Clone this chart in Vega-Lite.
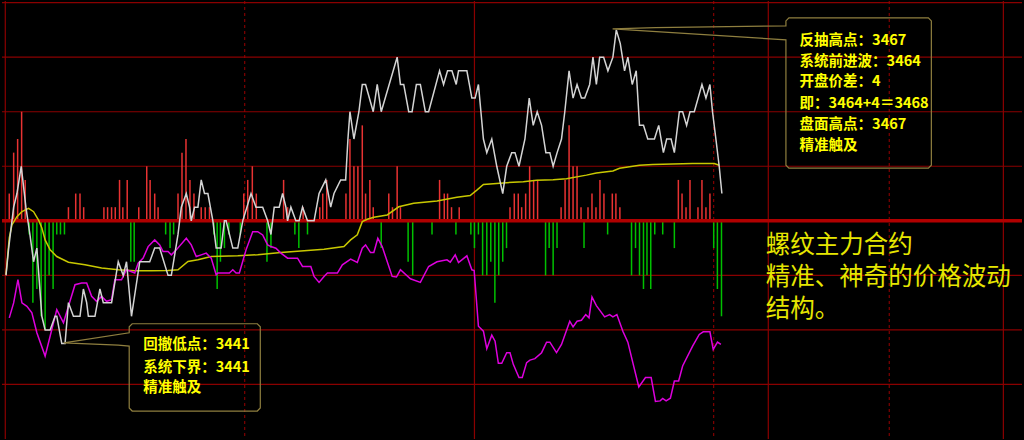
{
  "$schema": "https://vega.github.io/schema/vega-lite/v6.json",
  "width": 1024,
  "height": 440,
  "autosize": {"type": "fit", "contains": "padding"},
  "padding": 0,
  "background": "#000000",
  "view": {"stroke": null},
  "config": {"axis": {"disable": true}},
  "datasets": {
    "hgrid": [{"p": 3469}, {"p": 3465}, {"p": 3461}, {"p": 3457}, {"p": 3449}, {"p": 3445}, {"p": 3441}],
    "base": [{"p": 3453}],
    "vsolid": [{"t": 3.3}, {"t": 474.3}, {"t": 769.3}, {"t": 1005.3}],
    "vdash": [{"t": 243.7}, {"t": 714.5}, {"t": 890.7}],
    "bars": [
      {"t":7.3,"v":2},{"t":11.7,"v":5},{"t":15.7,"v":6},{"t":19.7,"v":8},{"t":23.3,"v":3},{"t":66.7,"v":1},{"t":74,"v":2},{"t":78.3,"v":2},{"t":82,"v":1},{"t":102.3,"v":1},{"t":106,"v":1},{"t":110,"v":1},{"t":113.7,"v":1},{"t":118,"v":3},{"t":121.3,"v":1},{"t":125.7,"v":3},{"t":137.3,"v":1},{"t":145.3,"v":4},{"t":148.7,"v":3},{"t":153.3,"v":2},{"t":156.7,"v":1},{"t":176.7,"v":2},{"t":180.7,"v":5},{"t":184.7,"v":6},{"t":188.7,"v":3},{"t":192.7,"v":2},{"t":200,"v":1},{"t":204,"v":1},{"t":208.3,"v":1},{"t":242.7,"v":2},{"t":246.7,"v":3},{"t":251.3,"v":4},{"t":255.3,"v":2},{"t":282.7,"v":3},{"t":286.7,"v":1},{"t":302.3,"v":1},{"t":319,"v":1},{"t":322,"v":2},{"t":326,"v":3},{"t":345.3,"v":2},{"t":349.3,"v":6},{"t":353.3,"v":4},{"t":357.3,"v":4},{"t":361.7,"v":7},{"t":365,"v":2},{"t":369.3,"v":3},{"t":372.7,"v":1},{"t":388.3,"v":2},{"t":392,"v":1},{"t":396.7,"v":4},{"t":400,"v":1},{"t":439.3,"v":3},{"t":444,"v":2},{"t":447.3,"v":2},{"t":451.3,"v":1},{"t":459,"v":1},{"t":510,"v":1},{"t":514.3,"v":2},{"t":518.3,"v":2},{"t":521.7,"v":1},{"t":525.7,"v":2},{"t":529.7,"v":4},{"t":533.7,"v":3},{"t":537.7,"v":3},{"t":561.3,"v":1},{"t":565.3,"v":3},{"t":569.3,"v":7},{"t":573.3,"v":4},{"t":577.3,"v":4},{"t":581.3,"v":1},{"t":588.3,"v":1},{"t":592.3,"v":2},{"t":596.3,"v":1},{"t":600.3,"v":3},{"t":604.3,"v":2},{"t":612.7,"v":2},{"t":616.3,"v":2},{"t":620.3,"v":1},{"t":679,"v":3},{"t":682.7,"v":2},{"t":686.7,"v":1},{"t":690.7,"v":3},{"t":698.7,"v":1},{"t":702.7,"v":3},{"t":706.7,"v":1},{"t":710.7,"v":2},
      {"t":27.3,"v":-1},{"t":31,"v":-6},{"t":35,"v":-5},{"t":39.3,"v":-7},{"t":43.3,"v":-8},{"t":47.3,"v":-4},{"t":51.3,"v":-5},{"t":55,"v":-1},{"t":58.7,"v":-1},{"t":62.7,"v":-1},{"t":129.3,"v":-3},{"t":132.7,"v":-3},{"t":164.3,"v":-1},{"t":168.7,"v":-2},{"t":172.3,"v":-1},{"t":212.7,"v":-1},{"t":216,"v":-5},{"t":219.3,"v":-3},{"t":223.3,"v":-2},{"t":227.7,"v":-1},{"t":239.3,"v":-1},{"t":266,"v":-3},{"t":270,"v":-2},{"t":294,"v":-1},{"t":298,"v":-2},{"t":306.7,"v":-1},{"t":380.7,"v":-2},{"t":407.7,"v":-3},{"t":412.3,"v":-4},{"t":431.7,"v":-1},{"t":455.7,"v":-1},{"t":470.7,"v":-1},{"t":474.3,"v":-2},{"t":478.3,"v":-1},{"t":482.5,"v":-4},{"t":486.7,"v":-4},{"t":490.7,"v":-3},{"t":494.8,"v":-6},{"t":498.7,"v":-4},{"t":502.7,"v":-3},{"t":506.5,"v":-2},{"t":545.7,"v":-4},{"t":549.3,"v":-2},{"t":553.3,"v":-4},{"t":557.2,"v":-2},{"t":584.3,"v":-2},{"t":608,"v":-1},{"t":632,"v":-4},{"t":636,"v":-2},{"t":640,"v":-4},{"t":644,"v":-5},{"t":647.5,"v":-4},{"t":651.3,"v":-5},{"t":655.3,"v":-1},{"t":663.3,"v":-1},{"t":675,"v":-2},{"t":714.5,"v":-2},{"t":718.2,"v":-5},{"t":722.3,"v":-7}
    ],
    "avg": [
      {"t":4,"p":3449.05},{"t":7.3,"p":3451.75},{"t":10,"p":3452.7},{"t":15,"p":3453.3},{"t":20,"p":3453.67},{"t":26.7,"p":3453.92},{"t":31.7,"p":3453.67},{"t":36.7,"p":3453.06},{"t":40,"p":3452.48},{"t":43.3,"p":3451.6},{"t":48.3,"p":3450.87},{"t":55,"p":3450.38},{"t":66.7,"p":3449.96},{"t":83.3,"p":3449.78},{"t":100,"p":3449.54},{"t":116.7,"p":3449.41},{"t":133.3,"p":3449.34},{"t":150,"p":3449.34},{"t":166.7,"p":3449.36},{"t":176.7,"p":3449.41},{"t":186.7,"p":3450.02},{"t":196.7,"p":3450.14},{"t":210,"p":3450.38},{"t":236.7,"p":3450.43},{"t":256.7,"p":3450.51},{"t":280,"p":3450.67},{"t":303.3,"p":3450.8},{"t":323.3,"p":3450.92},{"t":343.3,"p":3451.11},{"t":350,"p":3451.6},{"t":356.7,"p":3451.97},{"t":361.7,"p":3452.94},{"t":366.7,"p":3453.11},{"t":373.3,"p":3453.26},{"t":386.7,"p":3453.43},{"t":398.3,"p":3454.03},{"t":413.3,"p":3454.28},{"t":436.7,"p":3454.45},{"t":456.7,"p":3454.72},{"t":470,"p":3454.85},{"t":476.7,"p":3455.25},{"t":483.3,"p":3455.67},{"t":503.3,"p":3455.78},{"t":523.3,"p":3455.87},{"t":536.7,"p":3455.98},{"t":553.3,"p":3456.01},{"t":566.7,"p":3456.09},{"t":586.7,"p":3456.35},{"t":596.7,"p":3456.51},{"t":613.3,"p":3456.66},{"t":620,"p":3456.86},{"t":640,"p":3457.08},{"t":653.3,"p":3457.13},{"t":693.3,"p":3457.2},{"t":715,"p":3457.2},{"t":720,"p":3457.08}
    ],
    "oi": [
      {"t":7.3,"m":121.7},{"t":11.7,"m":136.7},{"t":16,"m":160},{"t":20,"m":136.7},{"t":25,"m":133.3},{"t":30,"m":126.7},{"t":35,"m":106.7},{"t":43.3,"m":83.3},{"t":50,"m":110},{"t":55,"m":130},{"t":61.7,"m":116.7},{"t":66.7,"m":133.3},{"t":73.3,"m":155},{"t":80,"m":156.7},{"t":85,"m":156.7},{"t":90,"m":143.3},{"t":95,"m":138.3},{"t":100,"m":143.3},{"t":105,"m":138.3},{"t":110,"m":140},{"t":113.3,"m":160},{"t":120,"m":160},{"t":125,"m":170},{"t":133.3,"m":166.7},{"t":136.7,"m":176.7},{"t":141.7,"m":181.7},{"t":146.7,"m":193.3},{"t":153.3,"m":200},{"t":158.3,"m":195},{"t":161.7,"m":188.3},{"t":166.7,"m":188.3},{"t":170,"m":185},{"t":175,"m":190},{"t":185,"m":201.7},{"t":190,"m":195},{"t":195,"m":183.3},{"t":200,"m":185},{"t":205,"m":186.7},{"t":210,"m":181.7},{"t":215,"m":165},{"t":216.7,"m":166.7},{"t":228.3,"m":166.7},{"t":231.7,"m":170},{"t":235,"m":166.7},{"t":238.3,"m":166.7},{"t":245,"m":190},{"t":251.7,"m":208.3},{"t":256.7,"m":208.3},{"t":261.7,"m":205},{"t":266.7,"m":195},{"t":270,"m":193.3},{"t":275,"m":191.7},{"t":280,"m":186.7},{"t":286.7,"m":181.7},{"t":296.7,"m":181.7},{"t":301.7,"m":173.3},{"t":310,"m":173.3},{"t":313.3,"m":163.3},{"t":318.3,"m":157.3},{"t":323.3,"m":163.3},{"t":326.7,"m":166.7},{"t":336.7,"m":166.7},{"t":341.7,"m":175},{"t":350,"m":180.7},{"t":356.7,"m":177.3},{"t":361.7,"m":191.7},{"t":365,"m":195},{"t":370,"m":187.3},{"t":373.3,"m":187.3},{"t":377.3,"m":201.7},{"t":381.7,"m":193.3},{"t":391.7,"m":163.3},{"t":396,"m":162.7},{"t":400,"m":170},{"t":410,"m":161},{"t":420,"m":157.3},{"t":428.3,"m":173.3},{"t":436.7,"m":178},{"t":446.7,"m":180},{"t":450,"m":177.7},{"t":455,"m":185},{"t":458.3,"m":177.3},{"t":466.7,"m":184},{"t":471.7,"m":170},{"t":474,"m":169.3},{"t":478.3,"m":113.3},{"t":483.3,"m":108.3},{"t":486.7,"m":90.7},{"t":491.7,"m":104.3},{"t":495,"m":98.3},{"t":498.3,"m":76},{"t":501.7,"m":76},{"t":506.7,"m":86.7},{"t":510,"m":86.7},{"t":513.3,"m":75},{"t":519,"m":61.7},{"t":522.3,"m":61.7},{"t":526.7,"m":76.7},{"t":530,"m":79.3},{"t":535,"m":80.7},{"t":541.7,"m":86.7},{"t":546.7,"m":97.3},{"t":550,"m":97.3},{"t":556.7,"m":86.7},{"t":561.7,"m":95},{"t":570,"m":118.3},{"t":573.3,"m":112.7},{"t":577.3,"m":118.3},{"t":581.7,"m":119.3},{"t":586,"m":125},{"t":589.3,"m":121.7},{"t":592.3,"m":142.7},{"t":596.7,"m":134},{"t":605,"m":122.7},{"t":610,"m":125},{"t":613.3,"m":122.7},{"t":617.3,"m":125},{"t":623.3,"m":108.3},{"t":628.3,"m":97.3},{"t":633.3,"m":76.7},{"t":639.3,"m":52.3},{"t":646,"m":61.7},{"t":651.7,"m":61.7},{"t":656,"m":37.7},{"t":660.7,"m":38.3},{"t":663.3,"m":40.7},{"t":666.7,"m":38.3},{"t":671,"m":41},{"t":675,"m":58.3},{"t":679.3,"m":58.3},{"t":683.3,"m":73.3},{"t":693.3,"m":93.3},{"t":700,"m":105},{"t":704,"m":107.7},{"t":710.7,"m":107.7},{"t":714,"m":90},{"t":718.3,"m":97.3},{"t":721.7,"m":95}
    ],
    "price": [
      {"t":4,"p":3449},{"t":6.7,"p":3451},{"t":10,"p":3453},{"t":11.7,"p":3454},{"t":15,"p":3455},{"t":19.3,"p":3457},{"t":24,"p":3454},{"t":28,"p":3452},{"t":31.7,"p":3450},{"t":35,"p":3451},{"t":40,"p":3446},{"t":43.3,"p":3445},{"t":48.3,"p":3445},{"t":53.3,"p":3446},{"t":55,"p":3446},{"t":60,"p":3444},{"t":63.3,"p":3444},{"t":66.7,"p":3447},{"t":71.7,"p":3446},{"t":78.3,"p":3446},{"t":81.7,"p":3448},{"t":85,"p":3447},{"t":86.7,"p":3446},{"t":93.3,"p":3446},{"t":98.3,"p":3448},{"t":101.7,"p":3447},{"t":110,"p":3447},{"t":116.7,"p":3450},{"t":121.7,"p":3449},{"t":125,"p":3450},{"t":130,"p":3446},{"t":138.3,"p":3450},{"t":148.3,"p":3450},{"t":153.3,"p":3451},{"t":158.3,"p":3451},{"t":166.7,"p":3449},{"t":170,"p":3449},{"t":176.7,"p":3452},{"t":180,"p":3454},{"t":185,"p":3455},{"t":188.3,"p":3454},{"t":190,"p":3453},{"t":193.3,"p":3454},{"t":196.7,"p":3454},{"t":200,"p":3456},{"t":203.3,"p":3455},{"t":206.7,"p":3455},{"t":211.7,"p":3453},{"t":215,"p":3451},{"t":220,"p":3451},{"t":223.3,"p":3453},{"t":225,"p":3453},{"t":231.7,"p":3451},{"t":236.7,"p":3451},{"t":241.7,"p":3453},{"t":250,"p":3455},{"t":255,"p":3454},{"t":261.7,"p":3454},{"t":266.7,"p":3453},{"t":270,"p":3452},{"t":273.3,"p":3454},{"t":278.3,"p":3454},{"t":281.7,"p":3455},{"t":285,"p":3454},{"t":286.7,"p":3453},{"t":290,"p":3454},{"t":295,"p":3453},{"t":298.3,"p":3453},{"t":301.7,"p":3454},{"t":306.7,"p":3453},{"t":313.3,"p":3453},{"t":318.3,"p":3455},{"t":325,"p":3456},{"t":330,"p":3454},{"t":333.3,"p":3455},{"t":340,"p":3456},{"t":345,"p":3456},{"t":347.3,"p":3459},{"t":349.3,"p":3461},{"t":353.3,"p":3459},{"t":358.3,"p":3461},{"t":361.7,"p":3463},{"t":365,"p":3463},{"t":372.7,"p":3461},{"t":376.7,"p":3463},{"t":380.7,"p":3461},{"t":396.7,"p":3465},{"t":400,"p":3463},{"t":403.3,"p":3463},{"t":408.3,"p":3461},{"t":411.7,"p":3461},{"t":416,"p":3463},{"t":420,"p":3463},{"t":425,"p":3461},{"t":428.3,"p":3461},{"t":439.3,"p":3464},{"t":443.3,"p":3463},{"t":447.3,"p":3464},{"t":451.7,"p":3464},{"t":456,"p":3463},{"t":458.3,"p":3464},{"t":466.7,"p":3464},{"t":471.7,"p":3462},{"t":475,"p":3462},{"t":478.3,"p":3463},{"t":483.3,"p":3459},{"t":486.7,"p":3458},{"t":491.7,"p":3459},{"t":496.7,"p":3457},{"t":502.7,"p":3455},{"t":506.7,"p":3457},{"t":511.7,"p":3458},{"t":515,"p":3458},{"t":519,"p":3457},{"t":525,"p":3459},{"t":529.3,"p":3462},{"t":533.3,"p":3460},{"t":537.3,"p":3461},{"t":541.7,"p":3460},{"t":546,"p":3458},{"t":550,"p":3458},{"t":553.3,"p":3457},{"t":557.3,"p":3458},{"t":561.7,"p":3459},{"t":565,"p":3461},{"t":569.3,"p":3464},{"t":573.3,"p":3462},{"t":577.3,"p":3463},{"t":581.7,"p":3462},{"t":585,"p":3462},{"t":590,"p":3463},{"t":593.3,"p":3465},{"t":596.7,"p":3463},{"t":600,"p":3465},{"t":604,"p":3465},{"t":608.3,"p":3464},{"t":613.3,"p":3465},{"t":616.7,"p":3467},{"t":620.7,"p":3466},{"t":625,"p":3464},{"t":628.3,"p":3465},{"t":632.7,"p":3463},{"t":636.7,"p":3464},{"t":640,"p":3460},{"t":644,"p":3460},{"t":648.3,"p":3459},{"t":655,"p":3459},{"t":659.3,"p":3460},{"t":664,"p":3458},{"t":667.3,"p":3459},{"t":671.7,"p":3459},{"t":675,"p":3458},{"t":680,"p":3461},{"t":683.3,"p":3461},{"t":687.3,"p":3460},{"t":690.7,"p":3461},{"t":695,"p":3461},{"t":702.7,"p":3463},{"t":706.7,"p":3462},{"t":710.7,"p":3463},{"t":713.3,"p":3461},{"t":716.7,"p":3459},{"t":720,"p":3457},{"t":722.7,"p":3455}
    ],
    "callouts": [
      {"id":"high","o":0,"t":613,"p":3467.08},{"id":"high","o":1,"t":656,"p":3467.17},{"id":"high","o":2,"t":787,"p":3467.3},{"id":"high","o":3,"t":787,"p":3467.66},{"id":"high","o":4,"t":790,"p":3467.88},{"id":"high","o":5,"t":930,"p":3467.88},{"id":"high","o":6,"t":933,"p":3467.66},{"id":"high","o":7,"t":933,"p":3457.08},{"id":"high","o":8,"t":930,"p":3456.86},{"id":"high","o":9,"t":790,"p":3456.86},{"id":"high","o":10,"t":787,"p":3457.08},{"id":"high","o":11,"t":787,"p":3466.27},{"id":"high","o":12,"t":613,"p":3467.08},
      {"id":"low","o":0,"t":62,"p":3444.05},{"id":"low","o":1,"t":127.7,"p":3444.79},{"id":"low","o":2,"t":127.7,"p":3445.23},{"id":"low","o":3,"t":130.7,"p":3445.45},{"id":"low","o":4,"t":256.3,"p":3445.45},{"id":"low","o":5,"t":259.3,"p":3445.23},{"id":"low","o":6,"t":259.3,"p":3439.27},{"id":"low","o":7,"t":256.3,"p":3439.05},{"id":"low","o":8,"t":130.7,"p":3439.05},{"id":"low","o":9,"t":127.7,"p":3439.27},{"id":"low","o":10,"t":127.7,"p":3443.81},{"id":"low","o":11,"t":116.7,"p":3443.89},{"id":"low","o":12,"t":62,"p":3444.05}
    ],
    "notes": [
      {"t":800.7,"p":3466.2,"text":"反抽高点：3467"},
      {"t":800.7,"p":3464.67,"text":"系统前进波：3464"},
      {"t":800.7,"p":3463.16,"text":"开盘价差：4"},
      {"t":800.7,"p":3461.58,"text":"即：3464+4＝3468"},
      {"t":800.7,"p":3460.05,"text":"盘面高点：3467"},
      {"t":800.7,"p":3458.49,"text":"精准触及"},
      {"t":141.7,"p":3443.89,"text":"回撤低点：3441"},
      {"t":141.7,"p":3442.24,"text":"系统下界：3441"},
      {"t":141.7,"p":3440.73,"text":"精准触及"}
    ],
    "title": [
      {"t":766.7,"p":3451.19,"text":"螺纹主力合约"},
      {"t":766.7,"p":3448.81,"text":"精准、神奇的价格波动"},
      {"t":766.7,"p":3446.46,"text":"结构。"}
    ]
  },
  "resolve": {"scale": {"y": "independent"}},
  "layer": [
    {
      "data": {"name": "hgrid"},
      "mark": {"type": "rule", "stroke": "#8a0000", "strokeWidth": 1.2},
      "encoding": {"y": {"field": "p", "type": "quantitative", "scale": {"domain": [3437.0, 3469.12], "nice": false, "zero": false}}}
    },
    {
      "data": {"name": "vsolid"},
      "mark": {"type": "rule", "stroke": "#8a0000", "strokeWidth": 1.2},
      "encoding": {"x": {"field": "t", "type": "quantitative", "scale": {"domain": [0, 1024], "nice": false, "zero": false}}}
    },
    {
      "data": {"name": "vdash"},
      "mark": {"type": "rule", "stroke": "#9a0000", "strokeWidth": 1, "strokeDash": [3, 3]},
      "encoding": {"x": {"field": "t", "type": "quantitative", "scale": {"domain": [0, 1024], "nice": false, "zero": false}}}
    },
    {
      "data": {"name": "bars"},
      "mark": {"type": "rule", "strokeWidth": 1.5},
      "encoding": {
        "x": {"field": "t", "type": "quantitative", "scale": {"domain": [0, 1024], "nice": false, "zero": false}},
        "y": {"field": "v", "type": "quantitative", "scale": {"domain": [-16.0, 16.12], "nice": false, "zero": false}},
        "y2": {"datum": 0},
        "color": {"condition": {"test": "datum.v > 0", "value": "#e83232"}, "value": "#00c000"}
      }
    },
    {
      "data": {"name": "base"},
      "mark": {"type": "rule", "stroke": "#b00000", "strokeWidth": 3.5},
      "encoding": {"y": {"field": "p", "type": "quantitative", "scale": {"domain": [3437.0, 3469.12], "nice": false, "zero": false}}}
    },
    {
      "data": {"name": "avg"},
      "mark": {"type": "line", "stroke": "#c8c800", "strokeWidth": 1.5},
      "encoding": {
        "x": {"field": "t", "type": "quantitative", "scale": {"domain": [0, 1024], "nice": false, "zero": false}},
        "y": {"field": "p", "type": "quantitative", "scale": {"domain": [3437.0, 3469.12], "nice": false, "zero": false}}
      }
    },
    {
      "data": {"name": "oi"},
      "mark": {"type": "line", "stroke": "#dd00dd", "strokeWidth": 1.5},
      "encoding": {
        "x": {"field": "t", "type": "quantitative", "scale": {"domain": [0, 1024], "nice": false, "zero": false}},
        "y": {"field": "m", "type": "quantitative", "scale": {"domain": [0, 440], "nice": false, "zero": false}}
      }
    },
    {
      "data": {"name": "price"},
      "mark": {"type": "line", "stroke": "#d4d4d4", "strokeWidth": 1.5},
      "encoding": {
        "x": {"field": "t", "type": "quantitative", "scale": {"domain": [0, 1024], "nice": false, "zero": false}},
        "y": {"field": "p", "type": "quantitative", "scale": {"domain": [3437.0, 3469.12], "nice": false, "zero": false}}
      }
    },
    {
      "data": {"name": "callouts"},
      "mark": {"type": "line", "stroke": "#8f7f3f", "strokeWidth": 1.2},
      "encoding": {
        "x": {"field": "t", "type": "quantitative", "scale": {"domain": [0, 1024], "nice": false, "zero": false}},
        "y": {"field": "p", "type": "quantitative", "scale": {"domain": [3437.0, 3469.12], "nice": false, "zero": false}},
        "detail": {"field": "id"},
        "order": {"field": "o", "type": "quantitative"}
      }
    },
    {
      "data": {"name": "notes"},
      "mark": {"type": "text", "align": "left", "baseline": "middle", "font": "Noto Sans CJK SC", "fontSize": 14.5, "fontWeight": "bold", "fill": "#ffff00"},
      "encoding": {
        "x": {"field": "t", "type": "quantitative", "scale": {"domain": [0, 1024], "nice": false, "zero": false}},
        "y": {"field": "p", "type": "quantitative", "scale": {"domain": [3437.0, 3469.12], "nice": false, "zero": false}},
        "text": {"field": "text"}
      }
    },
    {
      "data": {"name": "title"},
      "mark": {"type": "text", "align": "left", "baseline": "middle", "font": "Noto Sans CJK SC", "fontSize": 24.5, "fill": "#e6e600"},
      "encoding": {
        "x": {"field": "t", "type": "quantitative", "scale": {"domain": [0, 1024], "nice": false, "zero": false}},
        "y": {"field": "p", "type": "quantitative", "scale": {"domain": [3437.0, 3469.12], "nice": false, "zero": false}},
        "text": {"field": "text"}
      }
    }
  ]
}
